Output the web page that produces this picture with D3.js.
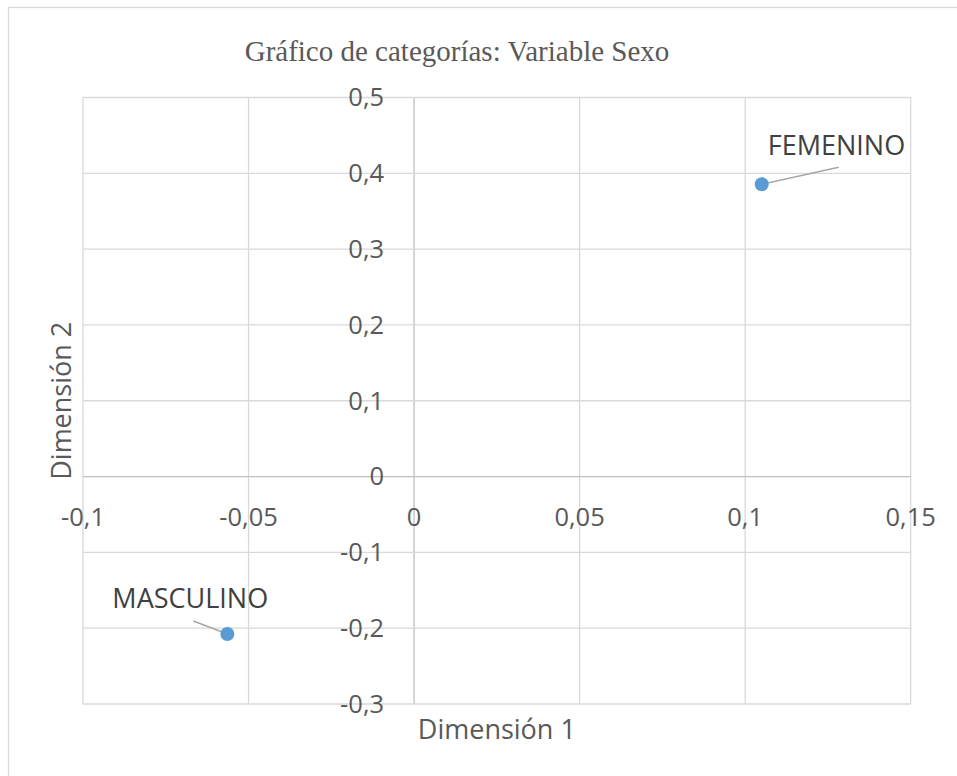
<!DOCTYPE html>
<html>
<head>
<meta charset="utf-8">
<script src="https://cdn.jsdelivr.net/npm/d3@7"></script>
<style>
  body { margin: 0; background: #fff; }
  text { fill: #595959; }
</style>
</head>
<body>
<script>
var svgWidth = 957;
var svgHeight = 776;

// data
var categories = ["FEMENINO", "MASCULINO"];
var dim1 = [0.105, -0.0564];
var dim2 = [0.3856, -0.2076];
var xTicks = [-0.1, -0.05, 0, 0.05, 0.1, 0.15];
var yTicks = [-0.3, -0.2, -0.1, 0, 0.1, 0.2, 0.3, 0.4, 0.5];

// label placement (px offsets from point), leader line start
var labelPos = {
  "FEMENINO": { dx: 6, dy: -29, lx: 77, ly: -17 },
  "MASCULINO": { dx: -115, dy: -26, lx: -34, ly: -13 }
};

var Margin = { top: 97.5, left: 83, right: 957 - 910.7, bottom: 776 - 704 };
var Width = svgWidth - Margin.left - Margin.right;
var Height = svgHeight - Margin.top - Margin.bottom;

var fmt = function(d) { return String(+d.toFixed(2)).replace(".", ","); };

var svg = d3.select("body")
  .append("svg")
  .attr("width", svgWidth)
  .attr("height", svgHeight);

// outer chart border (right and bottom run past the picture)
svg.append("rect")
  .attr("x", 8.5).attr("y", 7.5)
  .attr("width", 1000).attr("height", 800)
  .attr("fill", "#fff")
  .attr("stroke", "#d9d9d9")
  .attr("stroke-width", 1.3);

svg.append("text")
  .attr("x", 457)
  .attr("y", 61)
  .attr("text-anchor", "middle")
  .style("font-family", "'Liberation Serif', 'Times New Roman', serif")
  .style("font-size", "29px")
  .text("Gráfico de categorías: Variable Sexo");

var chartGroup = svg.append("g")
  .attr("transform", `translate(${Margin.left}, ${Margin.top})`);

var xScale = d3.scaleLinear().domain([-0.1, 0.15]).range([0, Width]);
var yScale = d3.scaleLinear().domain([-0.3, 0.5]).range([Height, 0]);

// gridlines
chartGroup.selectAll(".vgrid")
  .data(xTicks)
  .enter()
  .append("line")
  .attr("x1", d => xScale(d)).attr("x2", d => xScale(d))
  .attr("y1", 0).attr("y2", Height)
  .attr("stroke", d => d === 0 ? "#bfbfbf" : "#d9d9d9")
  .attr("stroke-width", 1.3);

chartGroup.selectAll(".hgrid")
  .data(yTicks)
  .enter()
  .append("line")
  .attr("x1", 0).attr("x2", Width)
  .attr("y1", d => yScale(d)).attr("y2", d => yScale(d))
  .attr("stroke", d => d === 0 ? "#bfbfbf" : "#d9d9d9")
  .attr("stroke-width", 1.3);

// tick labels
var tickFont = "'Open Sans', 'Noto Sans', sans-serif";

chartGroup.selectAll(".ylab")
  .data(yTicks)
  .enter()
  .append("text")
  .attr("x", xScale(0) - 30)
  .attr("y", d => yScale(d))
  .attr("dy", "0.35em")
  .attr("text-anchor", "end")
  .style("font-family", tickFont)
  .style("font-size", "25.5px")
  .text(fmt);

chartGroup.selectAll(".xlab")
  .data(xTicks)
  .enter()
  .append("text")
  .attr("x", d => xScale(d))
  .attr("y", yScale(0) + 41)
  .attr("dy", "0.35em")
  .attr("text-anchor", "middle")
  .style("font-family", tickFont)
  .style("font-size", "25.5px")
  .text(fmt);

// axis titles
svg.append("text")
  .attr("x", Margin.left + Width / 2)
  .attr("y", 739)
  .attr("text-anchor", "middle")
  .style("font-family", tickFont)
  .style("font-size", "27px")
  .text("Dimensión 1");

svg.append("text")
  .attr("transform", "rotate(-90)")
  .attr("x", -(Margin.top + Height / 2))
  .attr("y", 71)
  .attr("text-anchor", "middle")
  .style("font-family", tickFont)
  .style("font-size", "27px")
  .text("Dimensión 2");

// points
var points = categories.map((c, i) => ({ name: c, x: dim1[i], y: dim2[i] }));

chartGroup.selectAll(".leader")
  .data(points)
  .enter()
  .append("line")
  .attr("x1", d => xScale(d.x) + labelPos[d.name].lx)
  .attr("y1", d => yScale(d.y) + labelPos[d.name].ly)
  .attr("x2", d => xScale(d.x))
  .attr("y2", d => yScale(d.y))
  .attr("stroke", "#a6a6a6")
  .attr("stroke-width", 1.5);

chartGroup.selectAll(".pt")
  .data(points)
  .enter()
  .append("circle")
  .attr("cx", d => xScale(d.x))
  .attr("cy", d => yScale(d.y))
  .attr("r", 7)
  .attr("fill", "#5b9bd5");

chartGroup.selectAll(".ptlab")
  .data(points)
  .enter()
  .append("text")
  .attr("x", d => xScale(d.x) + labelPos[d.name].dx)
  .attr("y", d => yScale(d.y) + labelPos[d.name].dy)
  .style("font-family", tickFont)
  .style("font-size", "27px")
  .style("fill", "#404040")
  .text(d => d.name);
</script>
</body>
</html>
